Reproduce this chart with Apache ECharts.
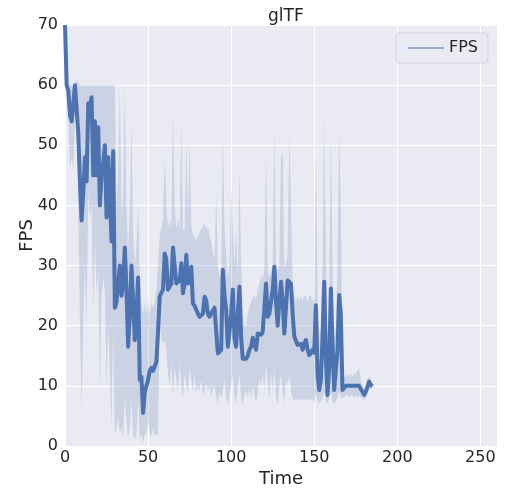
<!DOCTYPE html>
<html>
<head>
<meta charset="utf-8">
<script src="https://cdn.jsdelivr.net/npm/echarts@6/dist/echarts.min.js"></script>
<style>
  html, body { margin: 0; padding: 0; background: #fff; }
  #chart { width: 509px; height: 494px; }
</style>
</head>
<body>
<div id="chart"></div>
<script>
// one sample per time step, t = 0 .. 185
const fps = [
  70, 60, 59, 55, 54, 57, 60, 60, 52, 44,
  37.5, 42, 48, 44, 57, 56, 58, 45, 54, 45,
  53, 40, 45, 47, 50, 38, 48, 42, 34, 49,
  23, 24, 27, 30, 25, 27, 33, 26, 16.5, 22,
  30, 24, 17.6, 22, 28, 11, 11.5, 5.5, 9, 10,
  11, 12.5, 13, 12.5, 12.6, 14, 19, 24.8, 25.5, 26,
  32, 31, 26, 26, 27, 33, 30, 27, 27, 27.5,
  30.4, 25.4, 27, 31.8, 27, 28, 29.8, 23.7, 23.3, 23.2,
  22, 21.5, 21.8, 22, 24.8, 24.2, 22, 21.5, 22, 22,
  23, 19, 15.4, 15.6, 16, 29.3, 25, 22.6, 16.5, 19,
  22, 26, 18, 16.5, 22, 26.5, 18, 14.5, 14.5, 14.5,
  15, 16, 16.5, 18, 17, 16, 18.7, 18.5, 18.5, 19,
  23, 27, 21.5, 22, 22, 26, 29.8, 24, 20, 24,
  27.3, 24, 18.7, 23, 27.5, 27.3, 27, 22, 18.2, 17.5,
  16.8, 17, 17, 16, 17, 17.6, 16, 15.1, 15.5, 16,
  15.5, 23.4, 12, 9.3, 11, 18, 27.3, 15, 8.5, 13,
  26.2, 17, 9.3, 9.5, 16, 25.1, 22, 9.3, 9.5, 10,
  10, 10, 10, 10, 10.1, 10, 10.3, 10, 9.5, 9,
  8.5, 9, 9.8, 10.7, 10.2, 9.9
];
const fpsUpper = [
  70, 60.5, 60, 60, 60, 60, 60, 61, 60.5, 60,
  60, 60, 60, 60, 60, 60, 60, 60, 60, 60,
  60, 60, 60, 60, 60, 60, 60, 60, 60, 60,
  60, 40, 45, 60, 38, 42, 60, 40, 32, 40,
  54, 36, 30, 33, 40, 28, 24, 22, 24, 22,
  24, 22, 24, 23, 24, 26, 30, 35, 36, 38,
  48, 40, 36, 38, 36, 56, 40, 36, 38, 36,
  54, 36, 36, 51, 38, 50, 37, 35, 35, 34,
  35, 35.5, 36, 36.5, 37, 36, 36.5, 35, 34, 32,
  31, 42, 30, 28, 29, 52, 36, 32, 28, 30,
  43, 36, 30, 36, 28, 46, 30, 22, 20, 20,
  22, 23, 24, 24.5, 25, 24.4, 26, 27, 28, 28,
  29, 49, 29, 28, 29, 30, 53, 30, 29, 30,
  48, 49, 30, 30, 32, 52, 40, 26, 25, 24,
  25, 24, 25, 24, 25, 25, 24, 25, 25, 24,
  25, 49, 25, 18, 20, 30, 55, 30, 18, 25,
  52, 30, 18, 20, 30, 53, 40, 12, 11.5, 11.5,
  12, 11.5, 12, 11.5, 12, 12, 12.5, 13, 11, 10,
  9.5, 10, 11, 11.5, 11, 10.5
];
const fpsLower = [
  68, 59.5, 55, 46, 48, 46, 55, 57, 40, 20,
  6, 20, 30, 20, 42, 38, 40, 22, 35, 25,
  30, 9, 25, 28, 26, 10, 20, 12, 3.2, 20,
  2, 3, 5, 2, 3, 1.5, 8, 4, 1.5, 3,
  8, 2, 1, 2, 8, 1, 2, 0.5, 2, 2,
  4, 2, 1.5, 3, 1.5, 2, 2, 21, 18, 17,
  17.6, 16, 12, 10, 14, 8, 13, 11, 9, 14,
  10, 8, 12, 10, 9, 13, 11, 9, 12, 8.5,
  10, 9, 11, 8.5, 9, 10.5, 9, 10, 8, 9.5,
  10, 8, 7, 9, 8, 9, 11, 8, 7, 9,
  10, 12, 8, 7, 10, 12, 8, 7, 8.5, 9,
  8, 9.5, 8, 10, 8.5, 7, 9, 11, 10, 12,
  9, 14, 10, 8, 12, 9, 13, 8, 7, 10,
  12, 9, 7, 11, 10, 12, 9, 8, 7.5, 8,
  7.5, 8, 7.5, 8, 7.5, 8, 7.5, 8, 7.5, 8,
  7, 9, 7.5, 7, 7.5, 8, 9, 7.5, 7, 8,
  9, 7.5, 7, 7.5, 8, 9, 8, 8, 8, 8.5,
  8.5, 8, 8.5, 8.5, 8, 8.5, 8, 8.5, 8, 8,
  7.5, 8, 8.5, 9.5, 9.5, 9.5
];
const xTicks = [0, 50, 100, 150, 200, 250];
const yTicks = [0, 10, 20, 30, 40, 50, 60, 70];

const txt = '#262626';
const blue = '#4c72b0';

const linePoints = fps.map((v, i) => [i, v]);
const bandPoints = fpsLower.map((v, i) => [i, v, fpsUpper[i]]);

var myChart = echarts.init(document.getElementById('chart'), null, { renderer: 'canvas' });

var option = {
  backgroundColor: '#ffffff',
  animation: false,
  title: {
    text: 'glTF',
    left: 263,
    top: 3,
    textStyle: { fontFamily: 'DejaVu Sans', fontSize: 17, fontWeight: 'normal', color: txt }
  },
  legend: {
    data: [{ name: 'FPS', icon: 'rect' }],
    right: 21,
    top: 33,
    padding: [7, 10, 7, 12],
    itemWidth: 36,
    itemHeight: 1,
    itemGap: 8,
    backgroundColor: '#eaeaf2',
    borderColor: '#d4d4dc',
    borderWidth: 1,
    borderRadius: 4,
    textStyle: { fontFamily: 'DejaVu Sans', fontSize: 16, color: txt }
  },
  grid: {
    left: 65, right: 12, top: 25, bottom: 48,
    show: true,
    backgroundColor: '#eaeaf2',
    borderWidth: 0
  },
  xAxis: {
    type: 'value',
    min: xTicks[0],
    max: 260,
    interval: 50,
    name: 'Time',
    nameLocation: 'middle',
    nameGap: 24,
    nameMoveOverlap: false,
    nameTextStyle: { fontFamily: 'DejaVu Sans', fontSize: 18, color: txt },
    axisLine: { show: false },
    axisTick: { show: false },
    axisLabel: {
      fontFamily: 'DejaVu Sans', fontSize: 16, color: txt, margin: 4,
      formatter: (v) => (xTicks.indexOf(v) >= 0 ? String(v) : '')
    },
    splitLine: { show: true, lineStyle: { color: '#ffffff', width: 1 } }
  },
  yAxis: {
    type: 'value',
    min: yTicks[0],
    max: yTicks[yTicks.length - 1],
    interval: 10,
    name: 'FPS',
    nameLocation: 'middle',
    nameGap: 29,
    nameMoveOverlap: false,
    nameTextStyle: { fontFamily: 'DejaVu Sans', fontSize: 18, color: txt },
    axisLine: { show: false },
    axisTick: { show: false },
    axisLabel: { fontFamily: 'DejaVu Sans', fontSize: 16, color: txt, margin: 7 },
    splitLine: { show: true, lineStyle: { color: '#ffffff', width: 1 } }
  },
  series: [
    {
      name: 'band',
      type: 'custom',
      data: bandPoints,
      silent: true,
      z: 1,
      renderItem: function (params, api) {
        if (params.dataIndex !== 0) return null;
        // upper edge left->right, then lower edge right->left
        const pts = [];
        for (let i = 0; i < bandPoints.length; i++) {
          pts.push(api.coord([bandPoints[i][0], bandPoints[i][2]]));
        }
        for (let i = bandPoints.length - 1; i >= 0; i--) {
          pts.push(api.coord([bandPoints[i][0], bandPoints[i][1]]));
        }
        return {
          type: 'polygon',
          shape: { points: pts },
          style: { fill: 'rgba(76,114,176,0.2)', stroke: 'none' }
        };
      }
    },
    {
      name: 'FPS',
      type: 'line',
      data: linePoints,
      showSymbol: false,
      z: 3,
      itemStyle: { color: blue },
      lineStyle: { color: blue, width: 4, join: 'round' }
    }
  ]
};

myChart.setOption(option);
</script>
</body>
</html>
